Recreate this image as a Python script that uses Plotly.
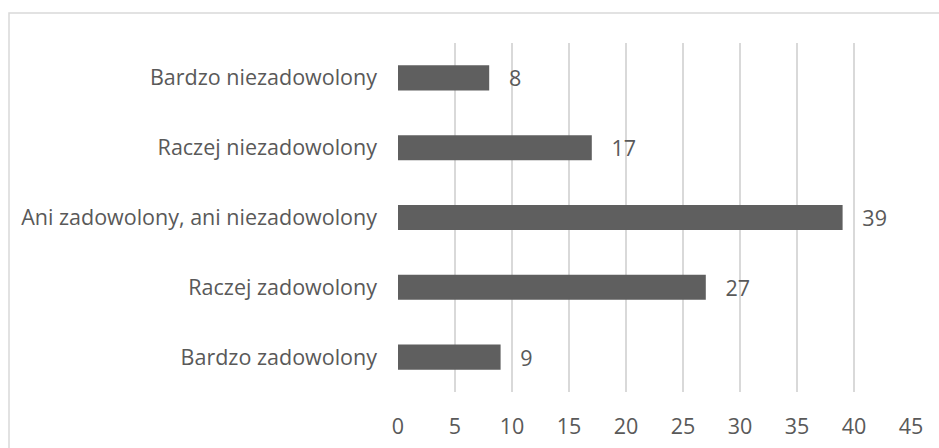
import plotly.graph_objects as go

categories = [
    "Bardzo zadowolony",
    "Raczej zadowolony",
    "Ani zadowolony, ani niezadowolony",
    "Raczej niezadowolony",
    "Bardzo niezadowolony",
]
values = [9, 27, 39, 17, 8]
x_ticks = [0, 5, 10, 15, 20, 25, 30, 35, 40, 45]

TEXT = "#595959"
GRID = "#d9d9d9"
FONT = "Open Sans, sans-serif"
FS = 21.5

fig = go.Figure(
    go.Bar(
        y=categories,
        x=values,
        orientation="h",
        marker=dict(color="#5f5f5f", line=dict(width=0)),
        text=values,
        texttemplate="   %{x}",
        textposition="outside",
        constraintext="none",
        textfont=dict(family=FONT, size=FS, color=TEXT),
        cliponaxis=False,
        width=0.36,
    )
)

fig.update_layout(
    width=939,
    height=448,
    margin=dict(l=398, r=28, t=43, b=56, autoexpand=False),
    paper_bgcolor="white",
    plot_bgcolor="white",
    showlegend=False,
    font=dict(family=FONT, size=FS, color=TEXT),
    xaxis=dict(
        range=[0, 45],
        tickvals=x_ticks,
        showgrid=True,
        gridcolor=GRID,
        gridwidth=1.5,
        zeroline=False,
        showline=False,
        ticks="",
        ticklabelstandoff=19,
        automargin=False,
        tickfont=dict(family=FONT, size=FS, color=TEXT),
        fixedrange=True,
    ),
    yaxis=dict(
        categoryorder="array",
        categoryarray=categories,
        showgrid=False,
        zeroline=False,
        showline=False,
        ticks="",
        ticklabelstandoff=20,
        automargin=False,
        tickfont=dict(family=FONT, size=FS, color=TEXT),
        fixedrange=True,
    ),
    shapes=[
        dict(
            type="rect",
            xref="paper",
            yref="paper",
            x0=(9 - 398) / 513,
            x1=(947 - 398) / 513,
            y0=-(470 - 392) / 349,
            y1=1 + 30 / 349,
            line=dict(color=GRID, width=1.5),
            fillcolor="rgba(0,0,0,0)",
            layer="below",
        )
    ],
)

fig.write_html(
    "out.html",
    config={"displayModeBar": False, "staticPlot": True},
    post_script="document.body.style.margin='0';document.body.style.padding='0';document.body.style.overflow='hidden';",
)
